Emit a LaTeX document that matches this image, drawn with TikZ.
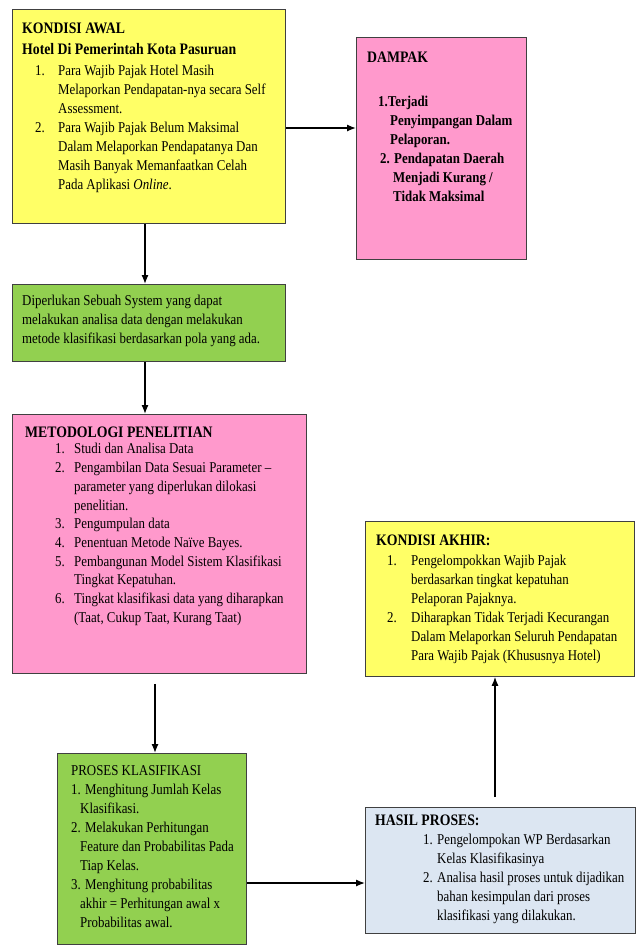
\documentclass[tikz,border=0pt]{standalone}
\usepackage{fontspec}
\setmainfont{Liberation Serif}[FakeStretch=0.86]
\usepackage{tikz}
\usetikzlibrary{positioning}
\usetikzlibrary{arrows.meta}

\definecolor{awalyellow}{RGB}{255,255,102}
\definecolor{dampakpink}{RGB}{255,153,204}
\definecolor{sistemgreen}{RGB}{146,208,80}
\definecolor{hasilblue}{RGB}{220,230,242}

\newcommand{\hd}{\fontsize{16}{19}\selectfont\bfseries}
\newcommand{\nitem}[3]{\hspace*{#1}\makebox[#2][l]{#3}}
\newcommand{\cont}[1]{\hspace*{#1}}

\tikzset{
  box/.style={draw=black!75,line width=0.8pt,inner sep=0pt,anchor=north west},
  txt/.style={align=left,inner sep=0pt,anchor=north west,font=\fontsize{15}{19}\selectfont},
  arr/.style={-{Latex[length=9pt,width=7pt]},line width=1.3pt}
}

\begin{document}
\begin{tikzpicture}[x=1pt,y=-1pt]
    \useasboundingbox (0,0) rectangle (636,946);
    % boxes
    \node [box,fill=awalyellow,minimum width=273pt,minimum height=214pt] (awal) at (12,9) {};
    \node [box,fill=dampakpink,minimum width=170pt,minimum height=222pt] (dampak) at (356,37) {};
    \node [box,fill=sistemgreen,minimum width=273pt,minimum height=77pt] (sistem) at (12,284) {};
    \node [box,fill=dampakpink,minimum width=294pt,minimum height=259pt] (metode) at (12,414) {};
    \node [box,fill=awalyellow,minimum width=269pt,minimum height=155pt] (akhir) at (365,521) {};
    \node [box,fill=sistemgreen,minimum width=189pt,minimum height=191pt] (proses) at (57,753) {};
    \node [box,fill=hasilblue,minimum width=270pt,minimum height=126pt] (hasil) at (365,807) {};

    % texts
    \node [txt] (awaltext) at (22,22.4) {{\hd KONDISI AWAL}\\[2pt]
      {\hd Hotel Di Pemerintah Kota Pasuruan}\\[2pt]
      \nitem{13pt}{23pt}{1.}Para Wajib Pajak Hotel Masih\\
      \cont{36pt}Melaporkan Pendapatan-nya secara Self\\
      \cont{36pt}Assessment.\\
      \nitem{13pt}{23pt}{2.}Para Wajib Pajak Belum Maksimal\\
      \cont{36pt}Dalam Melaporkan Pendapatanya Dan\\
      \cont{36pt}Masih Banyak Memanfaatkan Celah\\
      \cont{36pt}Pada Aplikasi \textit{Online}.};
    \node [txt,font=\fontsize{15}{19}\selectfont\bfseries] (dampaktext) at (367,51.4) {{\hd DAMPAK}\\[25pt]
      \cont{11pt}1.Terjadi\\
      \cont{23pt}Penyimpangan Dalam\\
      \cont{23pt}Pelaporan.\\
      \cont{13pt}2. Pendapatan Daerah\\
      \cont{26pt}Menjadi Kurang /\\
      \cont{26pt}Tidak Maksimal};
    \node [txt] (sistemtext) at (22,294.7) {Diperlukan Sebuah System yang dapat\\
      melakukan analisa data dengan melakukan\\
      metode klasifikasi berdasarkan pola yang ada.};
    \node [txt,font=\fontsize{15}{18.7}\selectfont] (metodetext) at (25,426.4) {{\hd METODOLOGI PENELITIAN}\\[-2pt]
      \nitem{30pt}{19pt}{1.}Studi dan Analisa Data\\
      \nitem{30pt}{19pt}{2.}Pengambilan Data Sesuai Parameter --\\
      \cont{49pt}parameter yang diperlukan dilokasi\\
      \cont{49pt}penelitian.\\
      \nitem{30pt}{19pt}{3.}Pengumpulan data\\
      \nitem{30pt}{19pt}{4.}Penentuan Metode Naïve Bayes.\\
      \nitem{30pt}{19pt}{5.}Pembangunan Model Sistem Klasifikasi\\
      \cont{49pt}Tingkat Kepatuhan.\\
      \nitem{30pt}{19pt}{6.}Tingkat klasifikasi data yang diharapkan\\
      \cont{49pt}(Taat, Cukup Taat, Kurang Taat)};
    \node [txt] (akhirtext) at (376,534.4) {{\hd KONDISI AKHIR:}\\[1pt]
      \nitem{11pt}{24pt}{1.}Pengelompokkan Wajib Pajak\\
      \cont{35pt}berdasarkan tingkat kepatuhan\\
      \cont{35pt}Pelaporan Pajaknya.\\
      \nitem{11pt}{24pt}{2.}Diharapkan Tidak Terjadi Kecurangan\\
      \cont{35pt}Dalam Melaporkan Seluruh Pendapatan\\
      \cont{35pt}Para Wajib Pajak (Khususnya Hotel)};
    \node [txt] (prosestext) at (71,765.7) {PROSES KLASIFIKASI\\
      1. Menghitung Jumlah Kelas\\
      \cont{9pt}Klasifikasi.\\
      2. Melakukan Perhitungan\\
      \cont{9pt}Feature dan Probabilitas Pada\\
      \cont{9pt}Tiap Kelas.\\
      3. Menghitung probabilitas\\
      \cont{9pt}akhir = Perhitungan awal x\\
      \cont{9pt}Probabilitas awal.};
    \node [txt] (hasiltext) at (375,814.4) {{\hd HASIL PROSES:}\\
      \nitem{48pt}{14pt}{1.}Pengelompokan WP Berdasarkan\\
      \cont{62pt}Kelas Klasifikasinya\\
      \nitem{48pt}{14pt}{2.}Analisa hasil proses untuk dijadikan\\
      \cont{62pt}bahan kesimpulan dari proses\\
      \cont{62pt}klasifikasi yang dilakukan.};

    % connectors
    \draw [arr] (awal.east |- 0,128) -- (dampak.west |- 0,128);
    \draw [arr] (awal.south -| 145,0) -- (sistem.north -| 145,0);
    \draw [arr] (sistem.south -| 145,0) -- (metode.north -| 145,0);
    \draw [arr,shorten <=10pt] (metode.south -| 155,0) -- (proses.north -| 155,0);
    \draw [arr] (proses.east |- 0,883) -- (hasil.west |- 0,883);
    \draw [arr,shorten <=10pt] (hasil.north -| 495,0) -- (akhir.south -| 495,0);
\end{tikzpicture}
\end{document}
